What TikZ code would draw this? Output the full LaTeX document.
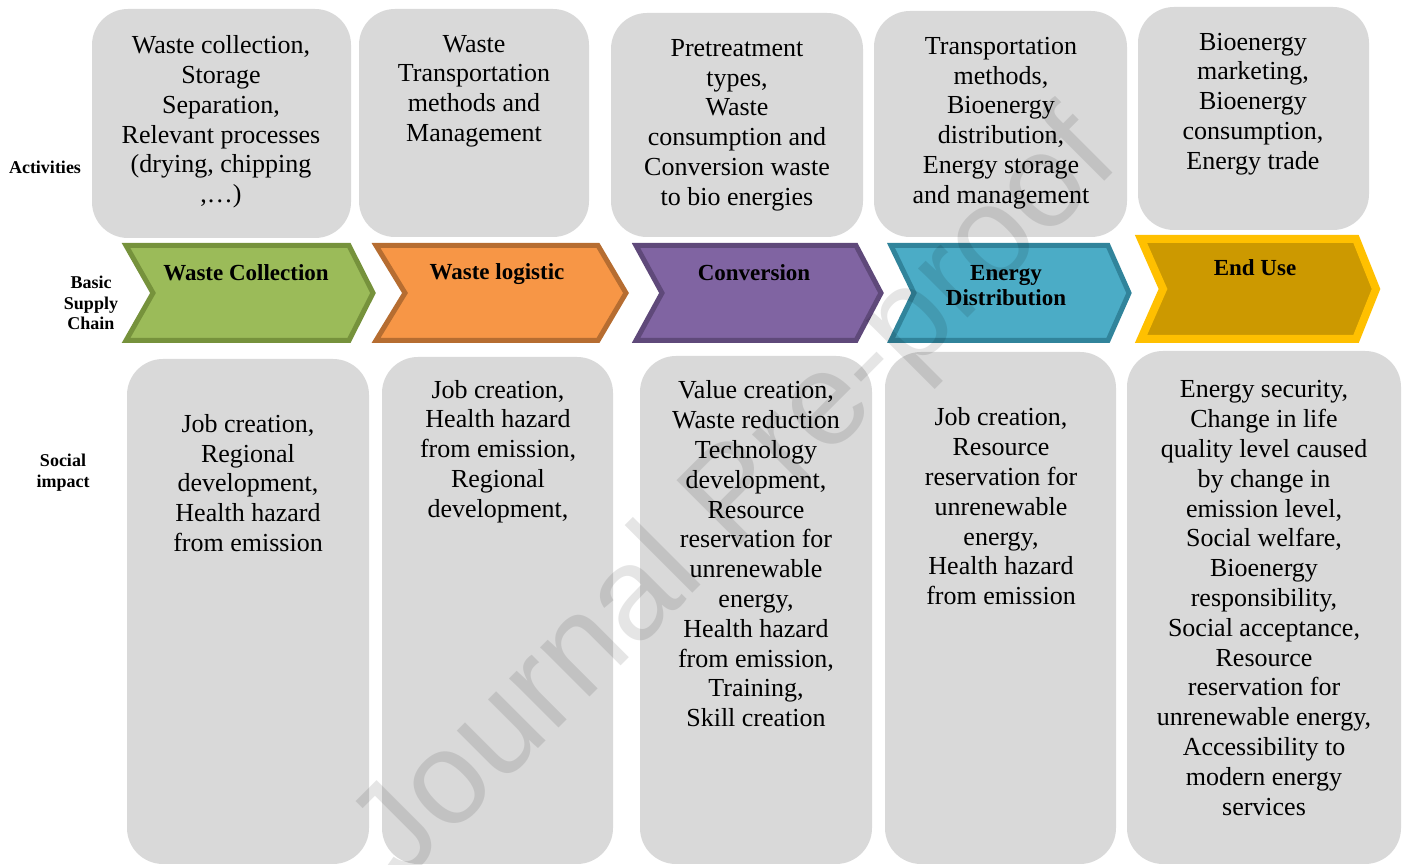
\documentclass[tikz,border=0pt]{standalone}
\usepackage{fontspec}
\setmainfont{Liberation Serif}
\newfontfamily\wmfont{Liberation Sans}
\definecolor{boxgrey}{HTML}{D9D9D9}
\definecolor{gfill}{HTML}{9BBB59}\definecolor{gline}{HTML}{76923C}
\definecolor{ofill}{HTML}{F79646}\definecolor{oline}{HTML}{B66D31}
\definecolor{pfill}{HTML}{8064A2}\definecolor{pline}{HTML}{5F497A}
\definecolor{bfill}{HTML}{4BACC6}\definecolor{bline}{HTML}{31849B}
\definecolor{yfill}{HTML}{CC9900}\definecolor{yline}{HTML}{FFC000}
\tikzset{
  greybox/.style={fill=boxgrey, rounded corners=18pt},
  boxtext/.style={align=center, font=\fontsize{13}{14.9}\selectfont, inner sep=0pt},
  chevtext/.style={align=center, font=\fontsize{11.5}{12.5}\selectfont\bfseries, inner sep=0pt},
  sidelabel/.style={align=center, font=\fontsize{9}{10.3}\selectfont\bfseries, inner sep=0pt},
  chevbox/.style={line width=2.5pt, line join=miter},
}
\begin{document}
\begin{tikzpicture}[x=0.5pt,y=-0.5pt]
\useasboundingbox (0,0) rectangle (1404,865);
% top row boxes
\fill[greybox] (92,9) rectangle (351,238);
\fill[greybox] (359,9) rectangle (589,237);
\fill[greybox] (611,13) rectangle (863,237);
\fill[greybox] (874,11) rectangle (1127,237);
\fill[greybox] (1138,7) rectangle (1369,230);
% bottom row boxes
\fill[greybox] (127,359) rectangle (369,864);
\fill[greybox] (382,357) rectangle (613,864);
\fill[greybox] (640,356) rectangle (872,864);
\fill[greybox] (885,352) rectangle (1116,864);
\fill[greybox] (1127,351) rectangle (1401,864);
% chevrons
\draw[chevbox, fill=gfill, draw=gline] (126,245.5) -- (349,245.5) -- (373,293) -- (349,340.5) -- (126,340.5) -- (153,293) -- cycle;
\draw[chevbox, fill=ofill, draw=oline] (376,245.5) -- (598,245.5) -- (626,293) -- (598,340.5) -- (376,340.5) -- (405,293) -- cycle;
\draw[chevbox, fill=pfill, draw=pline] (636,245.5) -- (856,245.5) -- (881,293) -- (856,340.5) -- (636,340.5) -- (662,293) -- cycle;
\draw[chevbox, fill=bfill, draw=bline] (891,245.5) -- (1108,245.5) -- (1129,293) -- (1108,340.5) -- (891,340.5) -- (914,293) -- cycle;
\draw[line width=4pt, line join=miter, fill=yfill, draw=yline] (1141,239) -- (1356,239) -- (1376,289) -- (1356,339) -- (1141,339) -- (1163,289) -- cycle;
% side labels
\node[sidelabel] (act) at (45,167) {Activities};
\node[sidelabel] (bsc) at (91,303) {Basic\\Supply\\Chain};
\node[sidelabel] (soc) at (63,472.5) {Social\\impact};
% chevron labels
\node[chevtext] (c1) at (246,273) {Waste Collection};
\node[chevtext] (c2) at (497,274) {Waste logistic};
\node[chevtext] (c3) at (754,273) {Conversion};
\node[chevtext] (c4) at (1006,286) {Energy\\Distribution};
\node[chevtext] (c5) at (1255,268) {End Use};
% activities text
\node[boxtext] (a1) at (221,122) {Waste collection,\\Storage\\Separation,\\Relevant processes\\(drying, chipping\\,\dots)};
\node[boxtext] (a2) at (474,91) {Waste\\Transportation\\methods and\\Management};
\node[boxtext] (a3) at (737,125) {Pretreatment\\types,\\Waste\\consumption and\\Conversion waste\\to bio energies};
\node[boxtext] (a4) at (1001,123) {Transportation\\methods,\\Bioenergy\\distribution,\\Energy storage\\and management};
\node[boxtext] (a5) at (1253,104) {Bioenergy\\marketing,\\Bioenergy\\consumption,\\Energy trade};
% social impact text
\node[boxtext] (s1) at (248,483) {Job creation,\\Regional\\development,\\Health hazard\\from emission};
\node[boxtext] (s2) at (498,451.5) {Job creation,\\Health hazard\\from emission,\\Regional\\development,};
\node[boxtext] (s3) at (756,554) {Value creation,\\Waste reduction\\Technology\\development,\\Resource\\reservation for\\unrenewable\\energy,\\Health hazard\\from emission,\\Training,\\Skill creation};
\node[boxtext] (s4) at (1001,506.5) {Job creation,\\Resource\\reservation for\\unrenewable\\energy,\\Health hazard\\from emission};
\node[boxtext] (s5) at (1264,598) {Energy security,\\Change in life\\quality level caused\\by change in\\emission level,\\Social welfare,\\Bioenergy\\responsibility,\\Social acceptance,\\Resource\\reservation for\\unrenewable energy,\\Accessibility to\\modern energy\\services};
% watermark
\node[rotate=45, font=\fontsize{66}{66}\selectfont\wmfont, text=black, text opacity=0.1, inner sep=0pt] (wm) at (738,500) {Journal Pre-proof};
\end{tikzpicture}
\end{document}
